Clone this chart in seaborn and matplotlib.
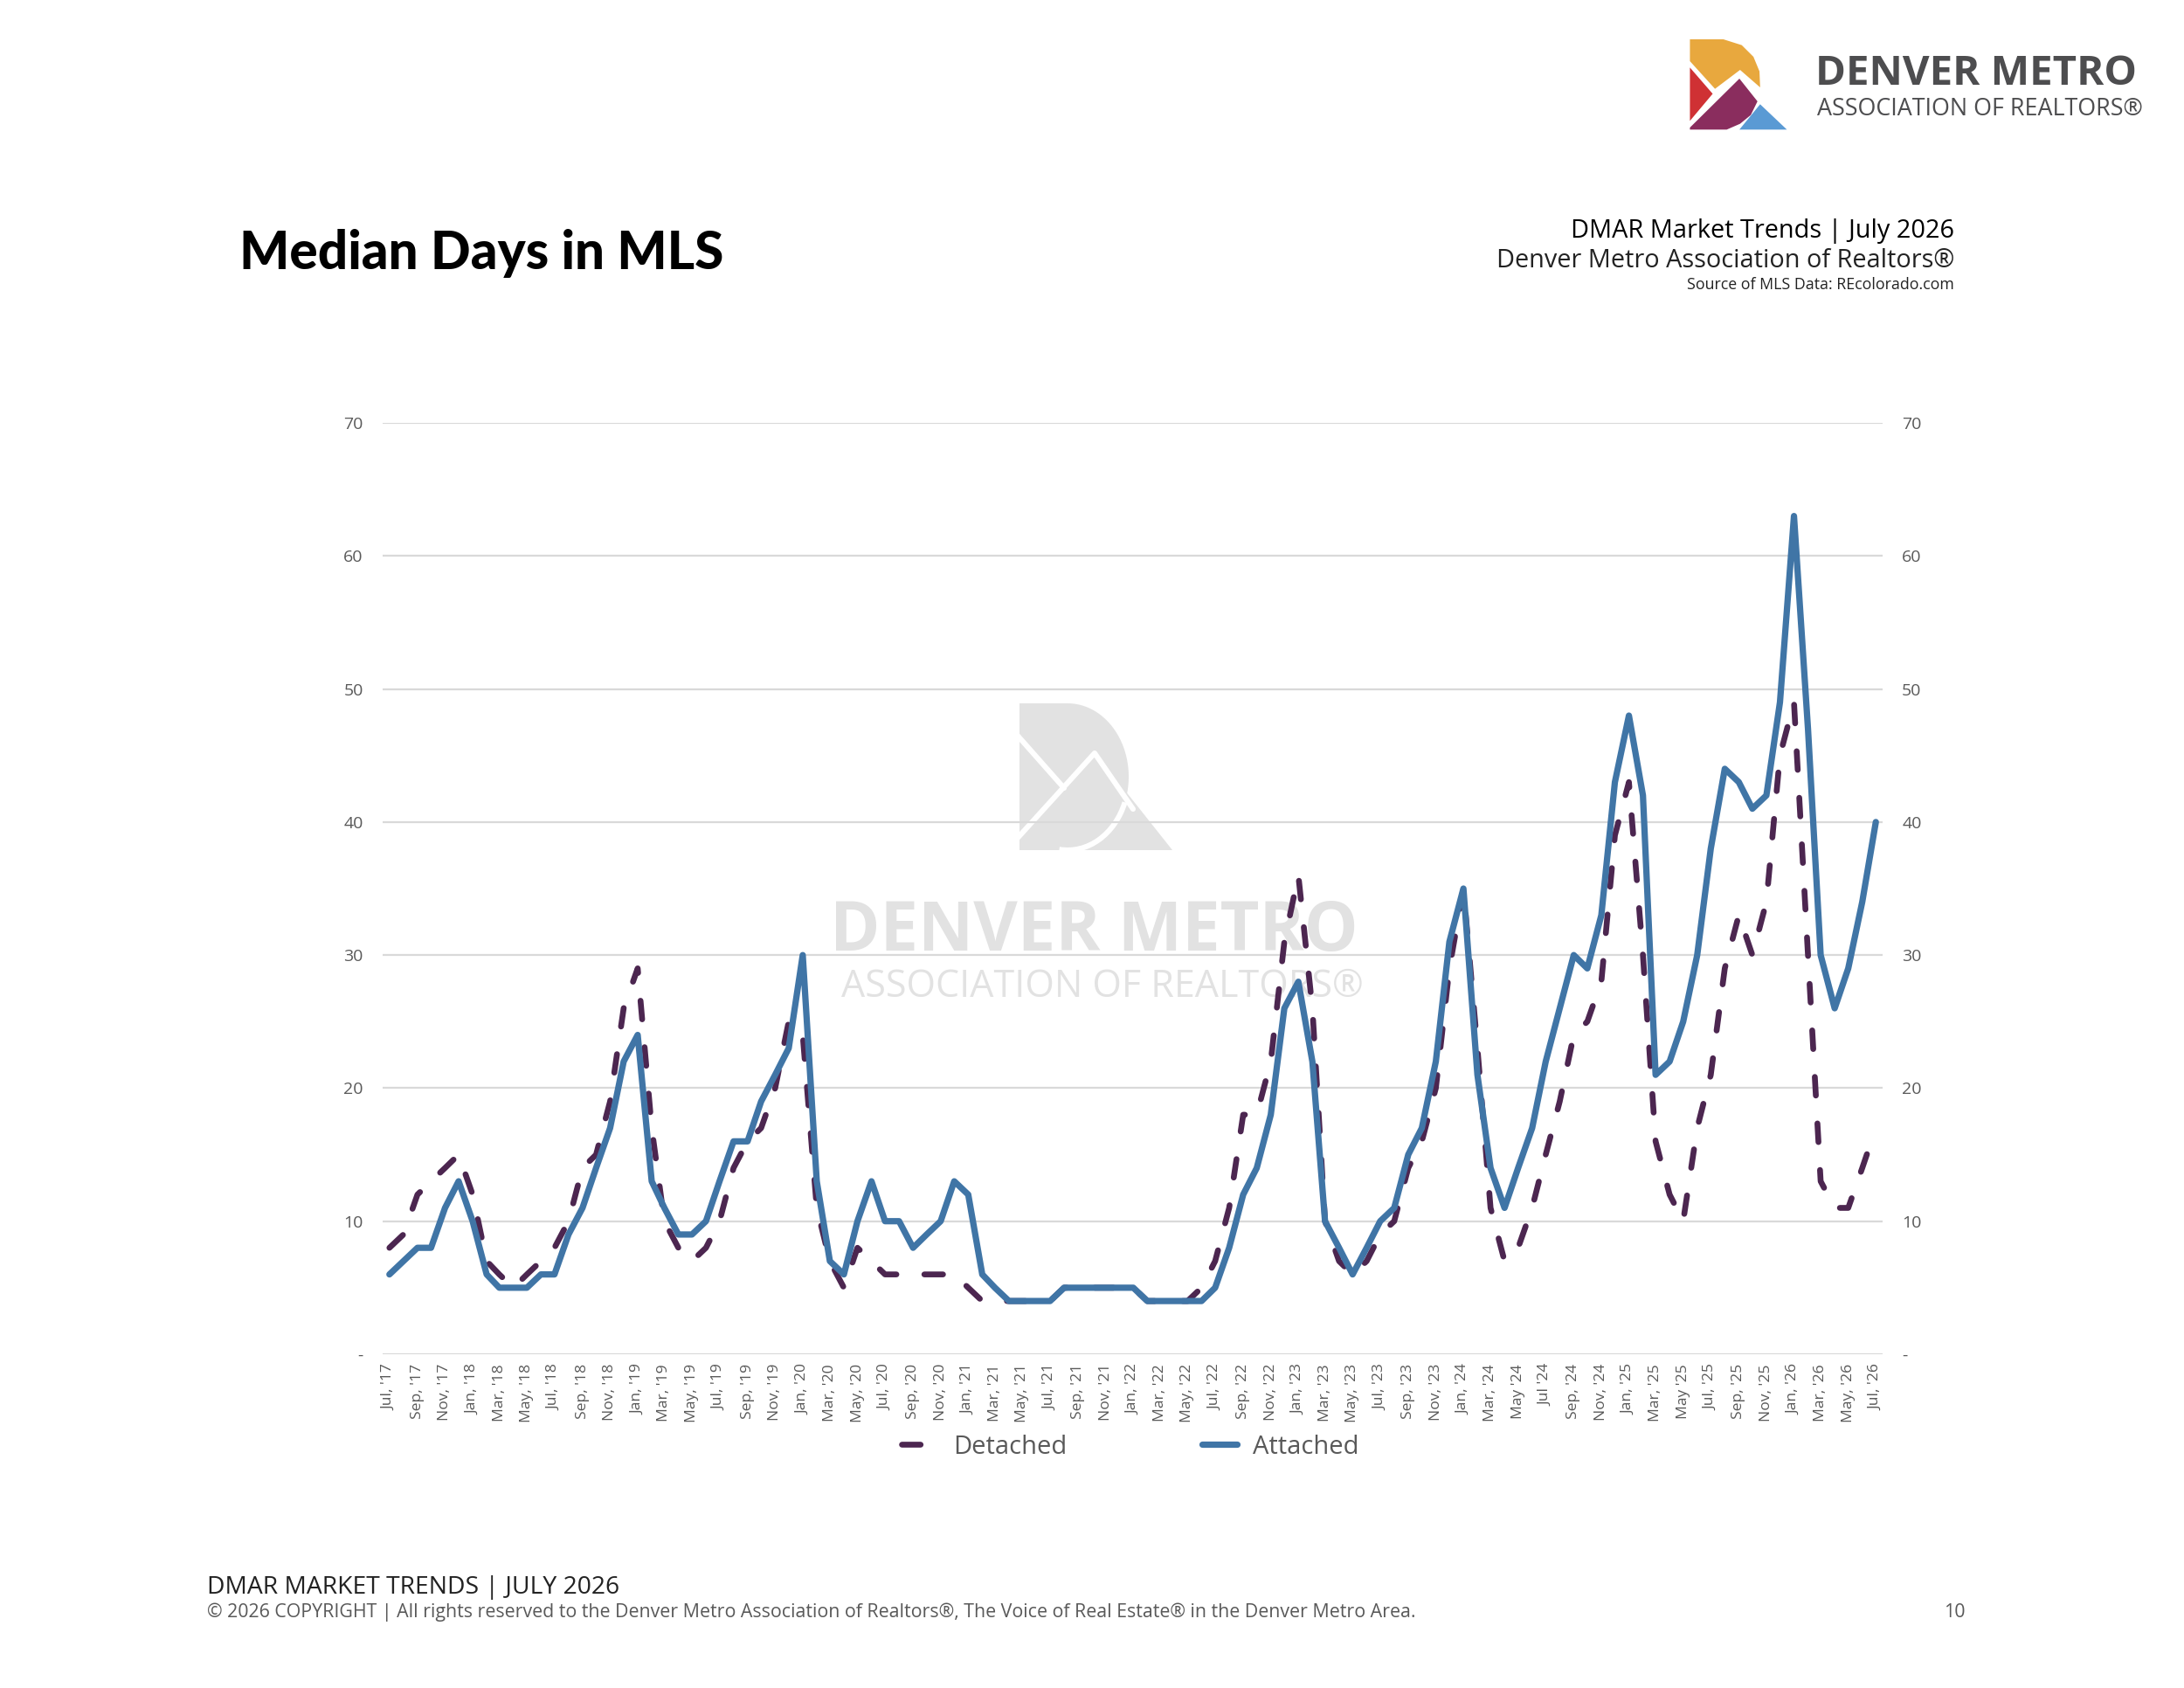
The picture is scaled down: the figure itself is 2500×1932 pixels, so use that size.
import numpy as np
import pandas as pd
import matplotlib
matplotlib.use("Agg")
import matplotlib.pyplot as plt
import seaborn as sns
from matplotlib.lines import Line2D
from matplotlib.patches import Polygon, Arc

# Data
months = pd.date_range("2017-07-01", "2026-07-01", freq="MS")

detached = [8, 9, 12, 13, 14, 15,
            12, 7, 6, 5, 6, 7, 8, 10, 14, 15, 19, 26,
            29, 17, 10, 8, 7, 8, 10, 14, 16, 17, 20, 25,
            24, 11, 7, 5, 8, 7, 6, 6, 6, 6, 6, 6,
            5, 4, 4, 4, 4, 4, 4, 5, 5, 5, 5, 5,
            5, 4, 4, 4, 4, 5, 7, 11, 18, 18, 22, 31,
            36, 26, 10, 7, 6, 7, 9, 10, 14, 16, 20, 29,
            35, 23, 11, 7, 8, 11, 15, 19, 24, 25, 28, 39,
            43, 30, 16, 12, 10, 17, 21, 29, 33, 30, 34, 45,
            49, 30, 13, 11, 11, 14, 17]

attached = [6, 7, 8, 8, 11, 13,
            10, 6, 5, 5, 5, 6, 6, 9, 11, 14, 17, 22,
            24, 13, 11, 9, 9, 10, 13, 16, 16, 19, 21, 23,
            30, 13, 7, 6, 10, 13, 10, 10, 8, 9, 10, 13,
            12, 6, 5, 4, 4, 4, 4, 5, 5, 5, 5, 5,
            5, 4, 4, 4, 4, 4, 5, 8, 12, 14, 18, 26,
            28, 22, 10, 8, 6, 8, 10, 11, 15, 17, 22, 31,
            35, 21, 14, 11, 14, 17, 22, 26, 30, 29, 33, 43,
            48, 42, 21, 22, 25, 30, 38, 44, 43, 41, 42, 49,
            63, 47, 30, 26, 29, 34, 40]

tick_labels = ["Jul, '17", "Sep, '17", "Nov, '17",
               "Jan, '18", "Mar, '18", "May, '18", "Jul, '18", "Sep, '18", "Nov, '18",
               "Jan, '19", "Mar, '19", "May, '19", "Jul, '19", "Sep, '19", "Nov, '19",
               "Jan, '20", "Mar, '20", "May, '20", "Jul, '20", "Sep, '20", "Nov, '20",
               "Jan, '21", "Mar, '21", "May, '21", "Jul, '21", "Sep, '21", "Nov, '21",
               "Jan, '22", "Mar, '22", "May, '22", "Jul, '22", "Sep, '22", "Nov, '22",
               "Jan, '23", "Mar, '23", "May, '23", "Jul, '23", "Sep, '23", "Nov, '23",
               "Jan, '24", "Mar, '24", "May '24", "Jul '24", "Sep, '24", "Nov, '24",
               "Jan, '25", "Mar, '25", "May '25", "Jul, '25", "Sep, '25", "Nov, '25",
               "Jan, '26", "Mar, '26", "May, '26", "Jul, '26"]

y_ticks = [0, 10, 20, 30, 40, 50, 60, 70]
y_tick_labels = ["-", "10", "20", "30", "40", "50", "60", "70"]

series = ["Detached", "Attached"]

df = pd.DataFrame({
    "month": np.concatenate([months, months]),
    "days": detached + attached,
    "type": [series[0]] * len(months) + [series[1]] * len(months),
})

PURPLE = "#4c2650"
BLUE = "#4075a6"
GRAY = "#595959"
WM = "#e2e2e2"
DASH = (3.2, 4.8)

sns.set_theme(style="white")
plt.rcParams["font.family"] = ["Open Sans", "DejaVu Sans"]

W, H = 2500, 1932
fig = plt.figure(figsize=(W / 200, H / 200), dpi=200)


def fx(x):
    return x / W


def fy(y):
    return 1 - y / H


def to_fig(pts):
    return [(fx(a), fy(b)) for a, b in pts]


# watermark logo (behind the axes)
t = np.linspace(-np.pi / 2, np.pi / 2, 60)
d_shape = [(1167, 973), (1167, 805)] + [(1222 + 70 * np.cos(a), 889 - 84 * np.sin(a)) for a in t[::-1]]
fig.add_artist(Polygon(to_fig(d_shape), transform=fig.transFigure, color=WM, lw=0, zorder=0.2))
fig.add_artist(Polygon(to_fig([(1288, 905), (1342, 973), (1238, 973)]),
                       transform=fig.transFigure, color=WM, lw=0, zorder=0.2))
for pts in [[(1164, 841), (1218, 902)], [(1164, 960), (1253, 862), (1297, 926)]]:
    xs, ys = zip(*to_fig(pts))
    fig.add_artist(Line2D(xs, ys, transform=fig.transFigure, color="white", lw=2.2, zorder=0.3))
fig.add_artist(Arc((fx(1222), fy(889)), 140 / W, 168 / H, theta1=-95, theta2=-30,
                   transform=fig.transFigure, color="white", lw=2.2, zorder=0.3))
fig.text(fx(1252), fy(1088), "DENVER METRO", ha="center", va="baseline", fontsize=28,
         fontweight="bold", color=WM, zorder=0.2)
fig.text(fx(1262), fy(1141), "ASSOCIATION OF REALTORS\u00ae", ha="center", va="baseline",
         fontsize=15.5, color=WM, zorder=0.2)

# main axes
ax = fig.add_axes([fx(438), fy(1550), fx(2155) - fx(438), fy(484) - fy(1550)])
ax.set_zorder(2)
ax.patch.set_alpha(0)

sns.lineplot(data=df, x="month", y="days", hue="type", style="type",
             hue_order=series, style_order=series,
             palette={"Detached": PURPLE, "Attached": BLUE},
             dashes={"Detached": DASH, "Attached": ""},
             legend=False, ax=ax)
for line, lw in zip(ax.lines, [2.4, 2.6]):
    line.set_linewidth(lw)
    line.set_dash_capstyle("round")
    line.set_solid_capstyle("round")

ax.set_ylim(0, 70)
ax.set_xlim(months[0] - pd.Timedelta(days=15), months[-1] + pd.Timedelta(days=15))
ax.set_yticks(y_ticks)
ax.set_yticklabels(y_tick_labels)
ax.set_xticks(months[::2])
ax.set_xticklabels(tick_labels, rotation=90, fontsize=6.3, color=GRAY)
ax.tick_params(axis="x", length=0, pad=4)
ax.tick_params(axis="y", length=0, labelsize=7, labelcolor=GRAY, pad=8,
               labelright=True, right=False)
ax.grid(axis="y", color="#d9d9d9", lw=0.8)
ax.grid(axis="x", visible=False)
ax.set_axisbelow(True)
for s in ax.spines.values():
    s.set_visible(False)
ax.set_xlabel("")
ax.set_ylabel("")

# legend
handles = [Line2D([], [], color=PURPLE, lw=2.4, dashes=DASH, dash_capstyle="round"),
           Line2D([], [], color=BLUE, lw=2.6, solid_capstyle="round")]
leg = fig.legend(handles, series, loc="center", bbox_to_anchor=(fx(1294), fy(1656)), ncol=2,
                 frameon=False, fontsize=10.5, handlelength=1.4, columnspacing=5.3,
                 handletextpad=0.6)
for txt in leg.get_texts():
    txt.set_color(GRAY)

# titles
fig.text(fx(274), fy(308), "Median Days in MLS", fontsize=21.7, fontweight="black",
         family=["Lato", "DejaVu Sans"], color="black", va="baseline")
fig.text(fx(2237), fy(272), "DMAR Market Trends | July 2026", ha="right", va="baseline",
         fontsize=10.4, color="black")
fig.text(fx(2237), fy(306), "Denver Metro Association of Realtors\u00ae", ha="right",
         va="baseline", fontsize=10.4, color="#222222")
fig.text(fx(2237), fy(331), "Source of MLS Data: REcolorado.com", ha="right", va="baseline",
         fontsize=6.4, color="#222222")

# logo top right
logo = {
    "#e8a83e": [(90, 75), (190, 75), (245, 95), (280, 135), (298, 185), (300, 240),
                (240, 180), (165, 245), (90, 150)],
    "#cf3134": [(90, 172), (158, 262), (90, 355)],
    "#8a2d5e": [(90, 378), (238, 210), (292, 288), (272, 335), (240, 365), (200, 385),
                (90, 385)],
    "#5a9ad4": [(238, 385), (300, 298), (380, 385)],
}
for col, pts in logo.items():
    fig.add_artist(Polygon(to_fig([(1900 + a / 2.613, 20 + b / 3) for a, b in pts]),
                           transform=fig.transFigure, color=col, lw=0))
fig.text(fx(2078), fy(97), "DENVER METRO", fontsize=17, fontweight="bold",
         color="#4d4d4f", va="baseline")
fig.text(fx(2080), fy(132), "ASSOCIATION OF REALTORS\u00ae", fontsize=9.7,
         color="#4d4d4f", va="baseline")

# footer
fig.text(fx(237), fy(1824), "DMAR MARKET TRENDS | JULY 2026", fontsize=10.2,
         color="#222222", va="baseline")
fig.text(fx(237), fy(1851),
         "\u00a9 2026 COPYRIGHT | All rights reserved to the Denver Metro Association of "
         "Realtors\u00ae, The Voice of Real Estate\u00ae in the Denver Metro Area.",
         fontsize=7.7, color=GRAY, va="baseline")
fig.text(fx(2250), fy(1851), "10", fontsize=7.7, color=GRAY, va="baseline", ha="right")

fig.savefig("out.png", dpi=200)
